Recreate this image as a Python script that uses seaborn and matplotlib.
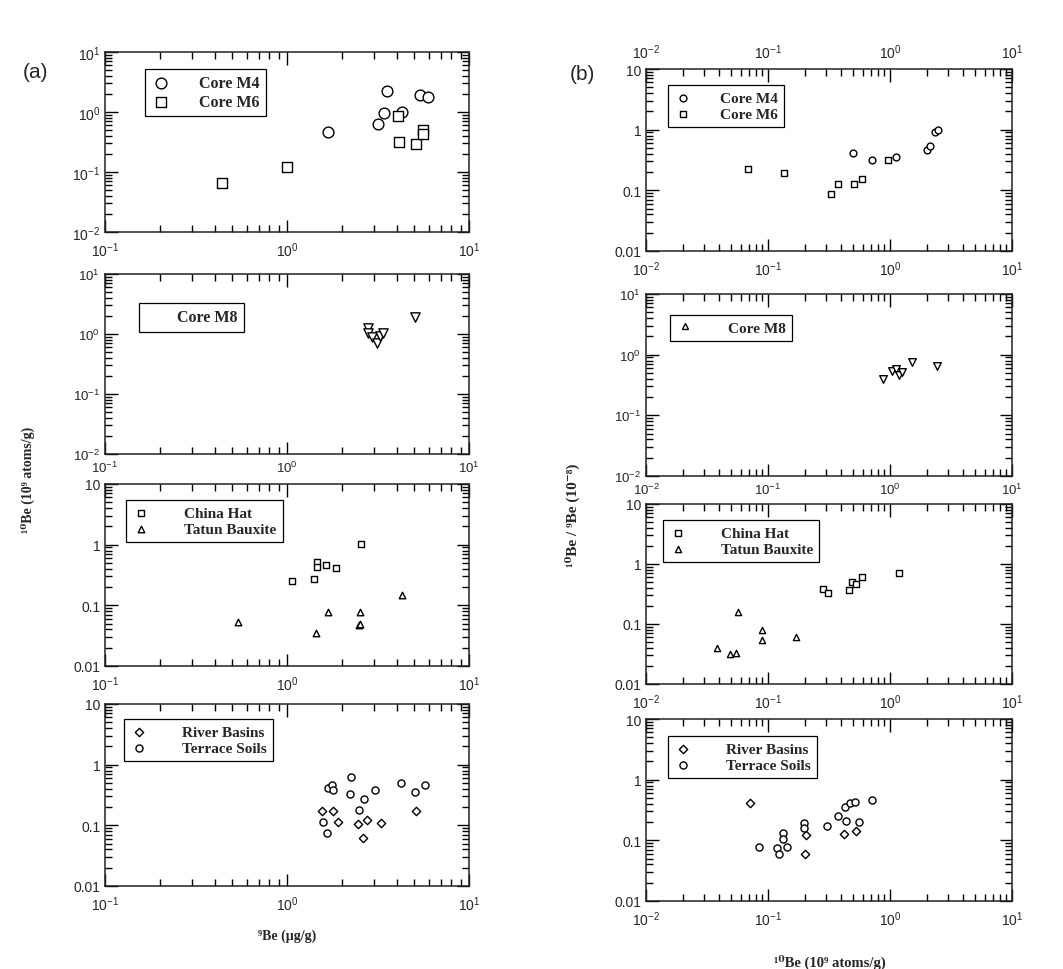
import numpy as np
import pandas as pd
import seaborn as sns
import matplotlib
matplotlib.use('Agg')
import matplotlib.pyplot as plt
from matplotlib.ticker import LogLocator, FuncFormatter, NullFormatter, LogFormatterSciNotation
from matplotlib.lines import Line2D

# --- (a) 10Be vs 9Be ---
m4_be9 = [1.69, 3.18, 3.41, 3.53, 4.27, 5.38, 5.97]
m4_be10 = [0.46, 0.63, 0.95, 2.2, 0.99, 1.92, 1.76]
m6_be9 = [0.44, 1.0, 4.09, 4.14, 5.12, 5.61, 5.61]
m6_be10 = [0.065, 0.123, 0.85, 0.32, 0.29, 0.51, 0.43]

m8_be9 = [2.80, 2.80, 2.92, 3.11, 3.24, 3.38, 5.05]
m8_be10 = [1.27, 1.05, 0.89, 0.72, 0.93, 1.05, 1.94]

ch_be9 = [1.07, 1.41, 1.46, 1.46, 1.63, 1.85, 2.55]
ch_be10 = [0.25, 0.275, 0.52, 0.43, 0.46, 0.41, 1.04]
tb_be9 = [0.54, 1.44, 1.67, 2.52, 2.50, 2.52, 4.27]
tb_be10 = [0.053, 0.0345, 0.079, 0.079, 0.047, 0.05, 0.148]

rb_be9 = [1.55, 1.80, 1.91, 2.47, 2.61, 2.76, 3.27, 5.12]
rb_be10 = [0.172, 0.172, 0.115, 0.104, 0.061, 0.122, 0.108, 0.172]
ts_be9 = [1.58, 1.65, 1.69, 1.76, 1.78, 2.24, 2.22, 2.50, 2.65, 3.05, 4.22, 5.05, 5.73]
ts_be10 = [0.115, 0.076, 0.42, 0.46, 0.38, 0.62, 0.33, 0.18, 0.27, 0.38, 0.49, 0.36, 0.46]

# --- (b) 10Be/9Be vs 10Be ---
m4_b10 = [0.50, 0.71, 1.12, 2.0, 2.13, 2.34, 2.49]
m4_ratio = [0.42, 0.32, 0.36, 0.47, 0.54, 0.90, 1.0]
m6_b10 = [0.069, 0.136, 0.327, 0.372, 0.507, 0.586, 0.96]
m6_ratio = [0.224, 0.195, 0.087, 0.127, 0.127, 0.152, 0.32]

m8_b10 = [0.88, 1.03, 1.13, 1.19, 1.25, 1.51, 2.42]
m8_ratio = [0.40, 0.54, 0.57, 0.46, 0.52, 0.77, 0.66]

ch_b10 = [0.28, 0.31, 0.46, 0.49, 0.53, 0.59, 1.19]
ch_ratio = [0.39, 0.33, 0.37, 0.51, 0.46, 0.61, 0.70]
tb_b10 = [0.057, 0.089, 0.038, 0.049, 0.055, 0.090, 0.17]
tb_ratio = [0.156, 0.080, 0.040, 0.032, 0.033, 0.054, 0.060]

rb_b10 = [0.071, 0.205, 0.42, 0.53, 0.201]
rb_ratio = [0.41, 0.122, 0.125, 0.142, 0.059]
ts_b10 = [0.085, 0.119, 0.123, 0.133, 0.133, 0.142, 0.197, 0.197, 0.306, 0.377,
          0.428, 0.433, 0.47, 0.52, 0.56, 0.71]
ts_ratio = [0.077, 0.076, 0.059, 0.13, 0.105, 0.079, 0.19, 0.162, 0.175, 0.25,
            0.36, 0.21, 0.41, 0.43, 0.20, 0.46]

sns.set_style('ticks')
plt.rcParams['font.family'] = ['Liberation Sans', 'DejaVu Sans']
plt.rcParams['mathtext.fontset'] = 'custom'
plt.rcParams['mathtext.rm'] = 'Liberation Sans'
plt.rcParams['mathtext.it'] = 'Liberation Sans:italic'
plt.rcParams['mathtext.bf'] = 'Liberation Sans:bold'

W, H = 1063, 970
fig = plt.figure(figsize=(W / 100, H / 100), dpi=100)


def add_box(l, t, r, b):
    return fig.add_axes([l / W, 1 - b / H, (r - l) / W, (b - t) / H])


serif = {'family': ['Liberation Serif', 'DejaVu Serif'], 'weight': 'bold'}


def style(ax, xlim, ylim, sci_y, top_labels=False, xpad=6, size=10):
    ax.set_xscale('log')
    ax.set_yscale('log')
    ax.set_xlim(*xlim)
    ax.set_ylim(*ylim)
    ax.xaxis.set_major_locator(LogLocator(base=10, numticks=10))
    ax.yaxis.set_major_locator(LogLocator(base=10, numticks=10))
    ax.xaxis.set_minor_locator(LogLocator(base=10, subs=np.arange(2, 10), numticks=10))
    ax.yaxis.set_minor_locator(LogLocator(base=10, subs=np.arange(2, 10), numticks=10))
    ax.xaxis.set_major_formatter(LogFormatterSciNotation())
    if sci_y:
        ax.yaxis.set_major_formatter(LogFormatterSciNotation())
    else:
        ax.yaxis.set_major_formatter(FuncFormatter(lambda v, p: '%g' % v))
    ax.xaxis.set_minor_formatter(NullFormatter())
    ax.yaxis.set_minor_formatter(NullFormatter())
    ax.tick_params(which='both', direction='in', top=True, right=True,
                   labelsize=size, width=1.0, color='black', labeltop=top_labels)
    ax.tick_params(which='major', length=9)
    ax.tick_params(which='minor', length=5)
    ax.tick_params(axis='x', which='major', pad=xpad)
    for s in ax.spines.values():
        s.set_linewidth(1.1)
        s.set_color('#222222')
    ax.set_xlabel('')
    ax.set_ylabel('')


def pts(ax, x, y, marker, s, label):
    sns.scatterplot(x=x, y=y, ax=ax, marker=marker, s=s, color='white',
                    edgecolor='black', linewidth=1.0, label=label, zorder=3)


def leg(ax, anchor, pad=1.5, handles=None, size=11):
    kw = dict(loc='upper left', bbox_to_anchor=anchor, frameon=True, fancybox=False,
              edgecolor='black', framealpha=1, borderaxespad=0, handletextpad=pad,
              labelspacing=0.15, borderpad=0.4, handlelength=1.2,
              prop={**serif, 'size': size})
    if handles is not None:
        lg = ax.legend(handles=handles, **kw)
    else:
        lg = ax.legend(**kw)
    lg.get_frame().set_linewidth(0.9)


# ----- column (a) -----
a1 = add_box(105, 53, 469, 233)
pts(a1, m4_be9, m4_be10, 'o', 60, 'Core M4')
pts(a1, m6_be9, m6_be10, 's', 60, 'Core M6')
style(a1, (0.1, 10), (0.01, 10), True)
leg(a1, (0.11, 0.905), pad=1.8, size=11.5)

a2 = add_box(105, 275, 469, 455)
pts(a2, m8_be9, m8_be10, 'v', 45, None)
style(a2, (0.1, 10), (0.01, 10), True, xpad=4, size=9.5)
leg(a2, (0.093, 0.84), pad=0.8, size=11.5,
    handles=[Line2D([], [], linestyle='none', marker='', label='Core M8')])

a3 = add_box(105, 485, 469, 667)
pts(a3, ch_be9, ch_be10, 's', 22, 'China Hat')
pts(a3, tb_be9, tb_be10, '^', 22, 'Tatun Bauxite')
style(a3, (0.1, 10), (0.01, 10), False)
leg(a3, (0.058, 0.912), pad=2.2)

a4 = add_box(105, 705, 469, 887)
pts(a4, rb_be9, rb_be10, 'D', 18, 'River Basins')
pts(a4, ts_be9, ts_be10, 'o', 26, 'Terrace Soils')
style(a4, (0.1, 10), (0.01, 10), False)
leg(a4, (0.052, 0.918), pad=2.2)

# ----- column (b) -----
b1 = add_box(646, 70, 1012, 252)
pts(b1, m4_b10, m4_ratio, 'o', 24, 'Core M4')
pts(b1, m6_b10, m6_ratio, 's', 22, 'Core M6')
style(b1, (0.01, 10), (0.01, 10), False, top_labels=True)
leg(b1, (0.06, 0.912), pad=1.8)

b2 = add_box(646, 295, 1012, 477)
pts(b2, m8_b10, m8_ratio, 'v', 30, None)
style(b2, (0.01, 10), (0.01, 10), True, xpad=4, size=9.5)
leg(b2, (0.066, 0.885), pad=2.2,
    handles=[Line2D([], [], linestyle='none', marker='^', markersize=4,
                    markerfacecolor='white', markeredgecolor='black', label='Core M8')])

b3 = add_box(646, 505, 1012, 685)
pts(b3, ch_b10, ch_ratio, 's', 20, 'China Hat')
pts(b3, tb_b10, tb_ratio, '^', 20, 'Tatun Bauxite')
style(b3, (0.01, 10), (0.01, 10), False)
leg(b3, (0.046, 0.911), pad=2.2)

b4 = add_box(646, 720, 1012, 902)
pts(b4, rb_b10, rb_ratio, 'D', 18, 'River Basins')
pts(b4, ts_b10, ts_ratio, 'o', 26, 'Terrace Soils')
style(b4, (0.01, 10), (0.01, 10), False)
leg(b4, (0.06, 0.907), pad=2.2)

# ----- figure text -----
fig.text(35 / W, 1 - 72 / H, '(a)', fontsize=15, ha='center', va='center')
fig.text(582 / W, 1 - 75 / H, '(b)', fontsize=15, ha='center', va='center')
fig.text(28 / W, 1 - 480 / H, '¹⁰Be (10⁹ atoms/g)', rotation=90, ha='center',
         va='center', fontsize=10, **serif)
fig.text(572 / W, 1 - 515 / H, '¹⁰Be / ⁹Be (10⁻⁸)', rotation=90, ha='center',
         va='center', fontsize=11, **serif)
fig.text(287 / W, 1 - 936 / H, '⁹Be (µg/g)', ha='center', va='center', fontsize=10, **serif)
fig.text(830 / W, 1 - 962 / H, '¹⁰Be (10⁹ atoms/g)', ha='center', va='center',
         fontsize=10.5, **serif)

fig.savefig('out.png', dpi=100, facecolor='white')
